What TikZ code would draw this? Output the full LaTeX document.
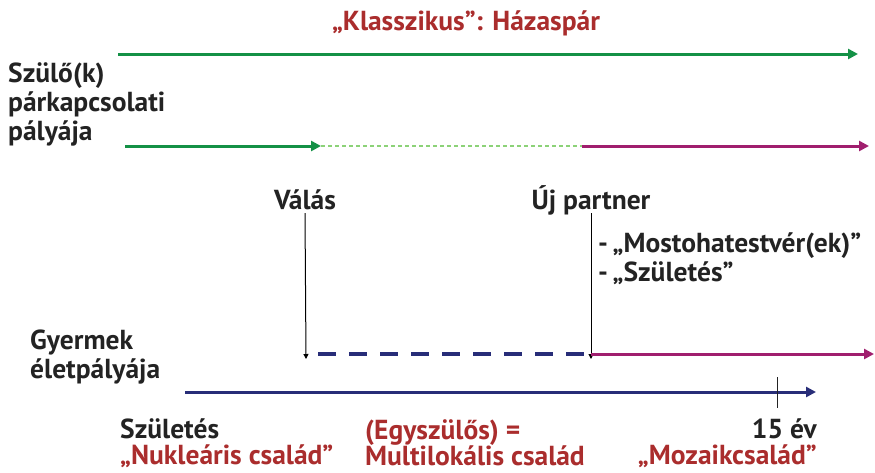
\documentclass[tikz,border=0pt]{standalone}
\usepackage{fontspec}
\setmainfont{PT Sans}
\usetikzlibrary{arrows.meta}
\definecolor{tred}{RGB}{170,45,45}
\definecolor{tgreen}{RGB}{20,145,70}
\definecolor{tlgreen}{RGB}{140,210,120}
\definecolor{tmag}{RGB}{160,30,110}
\definecolor{tnavy}{RGB}{40,45,120}
\definecolor{tink}{RGB}{35,35,35}
\begin{document}
\begin{tikzpicture}[x=1pt,y=-1pt,
  lbl/.style={font=\bfseries\fontsize{27.5}{29}\selectfont, text=tink, inner sep=0pt},
  rlbl/.style={lbl, text=tred},
  blbl/.style={font=\bfseries\fontsize{27.5}{26.5}\selectfont, text=tink, inner sep=0pt},
  thick line/.style={line width=3pt},
  gtip/.style={-{Triangle[length=10pt,width=10pt]}},
  stip/.style={-{Triangle[length=5pt,width=5pt]}}]
\useasboundingbox (0,0) rectangle (875,472);
% title
\node[rlbl] (title) at (466,23) {„Klasszikus”: Házaspár};
% top green arrow
\coordinate (g1s) at (118,54);
\coordinate (g1e) at (858,54);
\draw[thick line, tgreen, gtip] (g1s) -- (g1e);
% left label
\node[lbl, anchor=west, align=left] (parent) at (8,104) {Szülő(k)\\párkapcsolati\\pályája};
% second row
\coordinate (g2s) at (125,146);
\coordinate (g2e) at (321,146);
\coordinate (m2s) at (582,146);
\coordinate (m2e) at (869,146);
\draw[thick line, tgreen, gtip] (g2s) -- (g2e);
\draw[line width=1.3pt, tlgreen, dash pattern=on 4pt off 3pt] (g2e) -- (m2s);
\draw[thick line, tmag, gtip] (m2s) -- (m2e);
% events
\node[lbl] (valas) at (305,200) {Válás};
\node[lbl] (uj) at (591,200) {Új partner};
\node[lbl, anchor=west, align=left] (mosto) at (598,259) {-\,„Mostohatestvér(ek)”\\-\,„Születés”};
\coordinate (vb) at (306,359);
\coordinate (ub) at (591,359);
\draw[line width=1pt, black, stip] (valas.south |- 0,213) -- (vb);
\draw[line width=1pt, black, stip] (uj.south |- 0,213) -- (ub);
% child row
\coordinate (d1) at (318,354);
\coordinate (d2) at (591,354);
\coordinate (c2e) at (874,354);
\draw[line width=4pt, tnavy, dash pattern=on 18pt off 13pt] (d1) -- (d2);
\draw[thick line, tmag, gtip] (d2) -- (c2e);
\node[lbl, anchor=west, align=left] (child) at (30,357) {Gyermek\\életpályája};
\coordinate (n1) at (185,392);
\coordinate (n2) at (816,392);
\draw[thick line, tnavy, gtip] (n1) -- (n2);
\coordinate (t1) at (777,377);
\coordinate (t2) at (777,408);
\draw[line width=1pt, tink] (t1) -- (t2);
% bottom labels
\node[blbl, anchor=west, align=left] (szul) at (120,443) {Születés\\\textcolor{tred}{„Nukleáris család”}};
\node[blbl, anchor=west, align=left, text=tred] (egy) at (365,443) {(Egyszülős) =\\Multilokális család};
\node[blbl, anchor=east, align=right] (ev) at (817,443) {15 év\\\textcolor{tred}{„Mozaikcsalád”}};
\end{tikzpicture}
\end{document}
